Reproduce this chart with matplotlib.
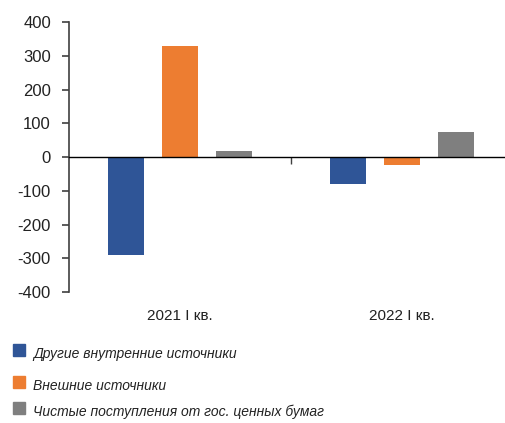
import matplotlib
matplotlib.use("Agg")
import matplotlib.pyplot as plt
import matplotlib.transforms as mtransforms
import numpy as np

categories = ["2021 I кв.", "2022 I кв."]
series_names = [
    "Другие внутренние источники",
    "Внешние источники",
    "Чистые поступления от гос. ценных бумаг",
]
other_domestic = [-290, -80]
external = [329, -23]
net_securities = [18, 74]
yticks = [-400, -300, -200, -100, 0, 100, 200, 300, 400]

colors = ["#2F5597", "#ED7D31", "#7F7F7F"]
plt.rcParams["font.family"] = ["Liberation Sans", "DejaVu Sans"]

fig = plt.figure(figsize=(5.06, 4.23), dpi=100)
ax = fig.add_axes([69 / 506, 131 / 423, 444 / 506, 270 / 423])

x = np.arange(len(categories))
width = 0.162
offset = 0.243
for i, (vals, c) in enumerate(zip([other_domestic, external, net_securities], colors)):
    ax.bar(x + (i - 1) * offset, vals, width, color=c, zorder=2)

ax.set_xlim(-0.5, 1.5)
ax.set_ylim(-400, 400)
ax.set_yticks(yticks)
ax.set_yticklabels([str(v) for v in yticks], fontsize=12, color="#222222")

for s in ["top", "right"]:
    ax.spines[s].set_visible(False)
ax.spines["left"].set_color("#404040")
ax.spines["left"].set_linewidth(1.2)
ax.spines["bottom"].set_position(("data", 0))
ax.spines["bottom"].set_color("black")
ax.spines["bottom"].set_linewidth(1.0)
ax.spines["bottom"].set_zorder(3)
ax.tick_params(axis="y", length=5, width=1.2, color="#404040", pad=8)
ax.set_xticks([0.5])
ax.set_xticklabels([""])
ax.tick_params(axis="x", length=5, width=1.0, color="#404040")

trans = mtransforms.blended_transform_factory(ax.transData, ax.transAxes)
for xi, lab in zip(x, categories):
    ax.text(xi, -24 / 270, lab, transform=trans, ha="center", va="center",
            fontsize=11, color="#222222")

# legend drawn as stacked swatches with italic labels
leg_y = [350, 382, 408]
for c, name, yy in zip(colors, series_names, leg_y):
    fig.patches.append(plt.Rectangle((13 / 506, 1 - (yy + 6) / 423), 12 / 506, 12 / 423,
                                     transform=fig.transFigure, color=c, figure=fig))
    fig.text(33 / 506, 1 - (yy + 4) / 423, name, fontsize=10, style="italic",
             color="#222222", va="center", ha="left")

fig.savefig("out.png", dpi=100)
